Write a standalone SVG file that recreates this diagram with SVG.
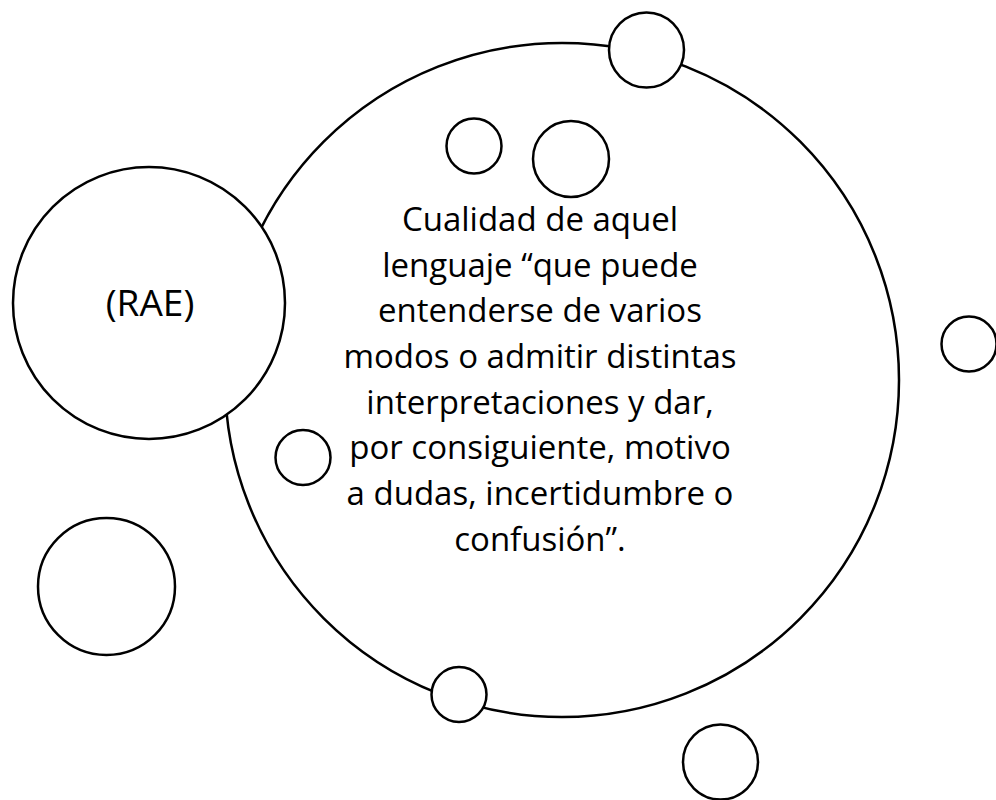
<svg xmlns="http://www.w3.org/2000/svg" width="996" height="800" viewBox="0 0 996 800">
<style>
.c{fill:#fff;stroke:#000;stroke-width:2.5}
.t{font-family:"Open Sans","Liberation Sans",sans-serif;font-size:33px;fill:#000;text-anchor:middle}
</style>
<rect width="996" height="800" fill="#fff"/>
<g id="main">
<circle class="c" cx="562" cy="380" r="337"/>
<text class="t" x="540" y="231">Cualidad de aquel</text>
<text class="t" x="540" y="277">lenguaje “que puede</text>
<text class="t" x="540" y="322">entenderse de varios</text>
<text class="t" x="540" y="368">modos o admitir distintas</text>
<text class="t" x="540" y="414">interpretaciones y dar,</text>
<text class="t" x="540" y="459">por consiguiente, motivo</text>
<text class="t" x="540" y="505">a dudas, incertidumbre o</text>
<text class="t" x="540" y="551">confusión”.</text>
</g>
<g id="rae">
<circle class="c" cx="149" cy="303" r="136"/>
<text class="t" x="150" y="316" style="font-size:37px">(RAE)</text>
</g>
<g id="n-top"><circle class="c" cx="646.5" cy="50" r="37.5"/></g>
<g id="n-s1"><circle class="c" cx="474" cy="146" r="27.5"/></g>
<g id="n-s2"><circle class="c" cx="571" cy="159" r="38"/></g>
<g id="n-right"><circle class="c" cx="969" cy="344" r="27.5"/></g>
<g id="n-left"><circle class="c" cx="303" cy="457.5" r="27.5"/></g>
<g id="n-bl"><circle class="c" cx="106.5" cy="586.5" r="68.5"/></g>
<g id="n-bottom"><circle class="c" cx="459" cy="694.5" r="27.5"/></g>
<g id="n-br"><circle class="c" cx="720.5" cy="762" r="37.5"/></g>
<g id="connectors"/>
</svg>
